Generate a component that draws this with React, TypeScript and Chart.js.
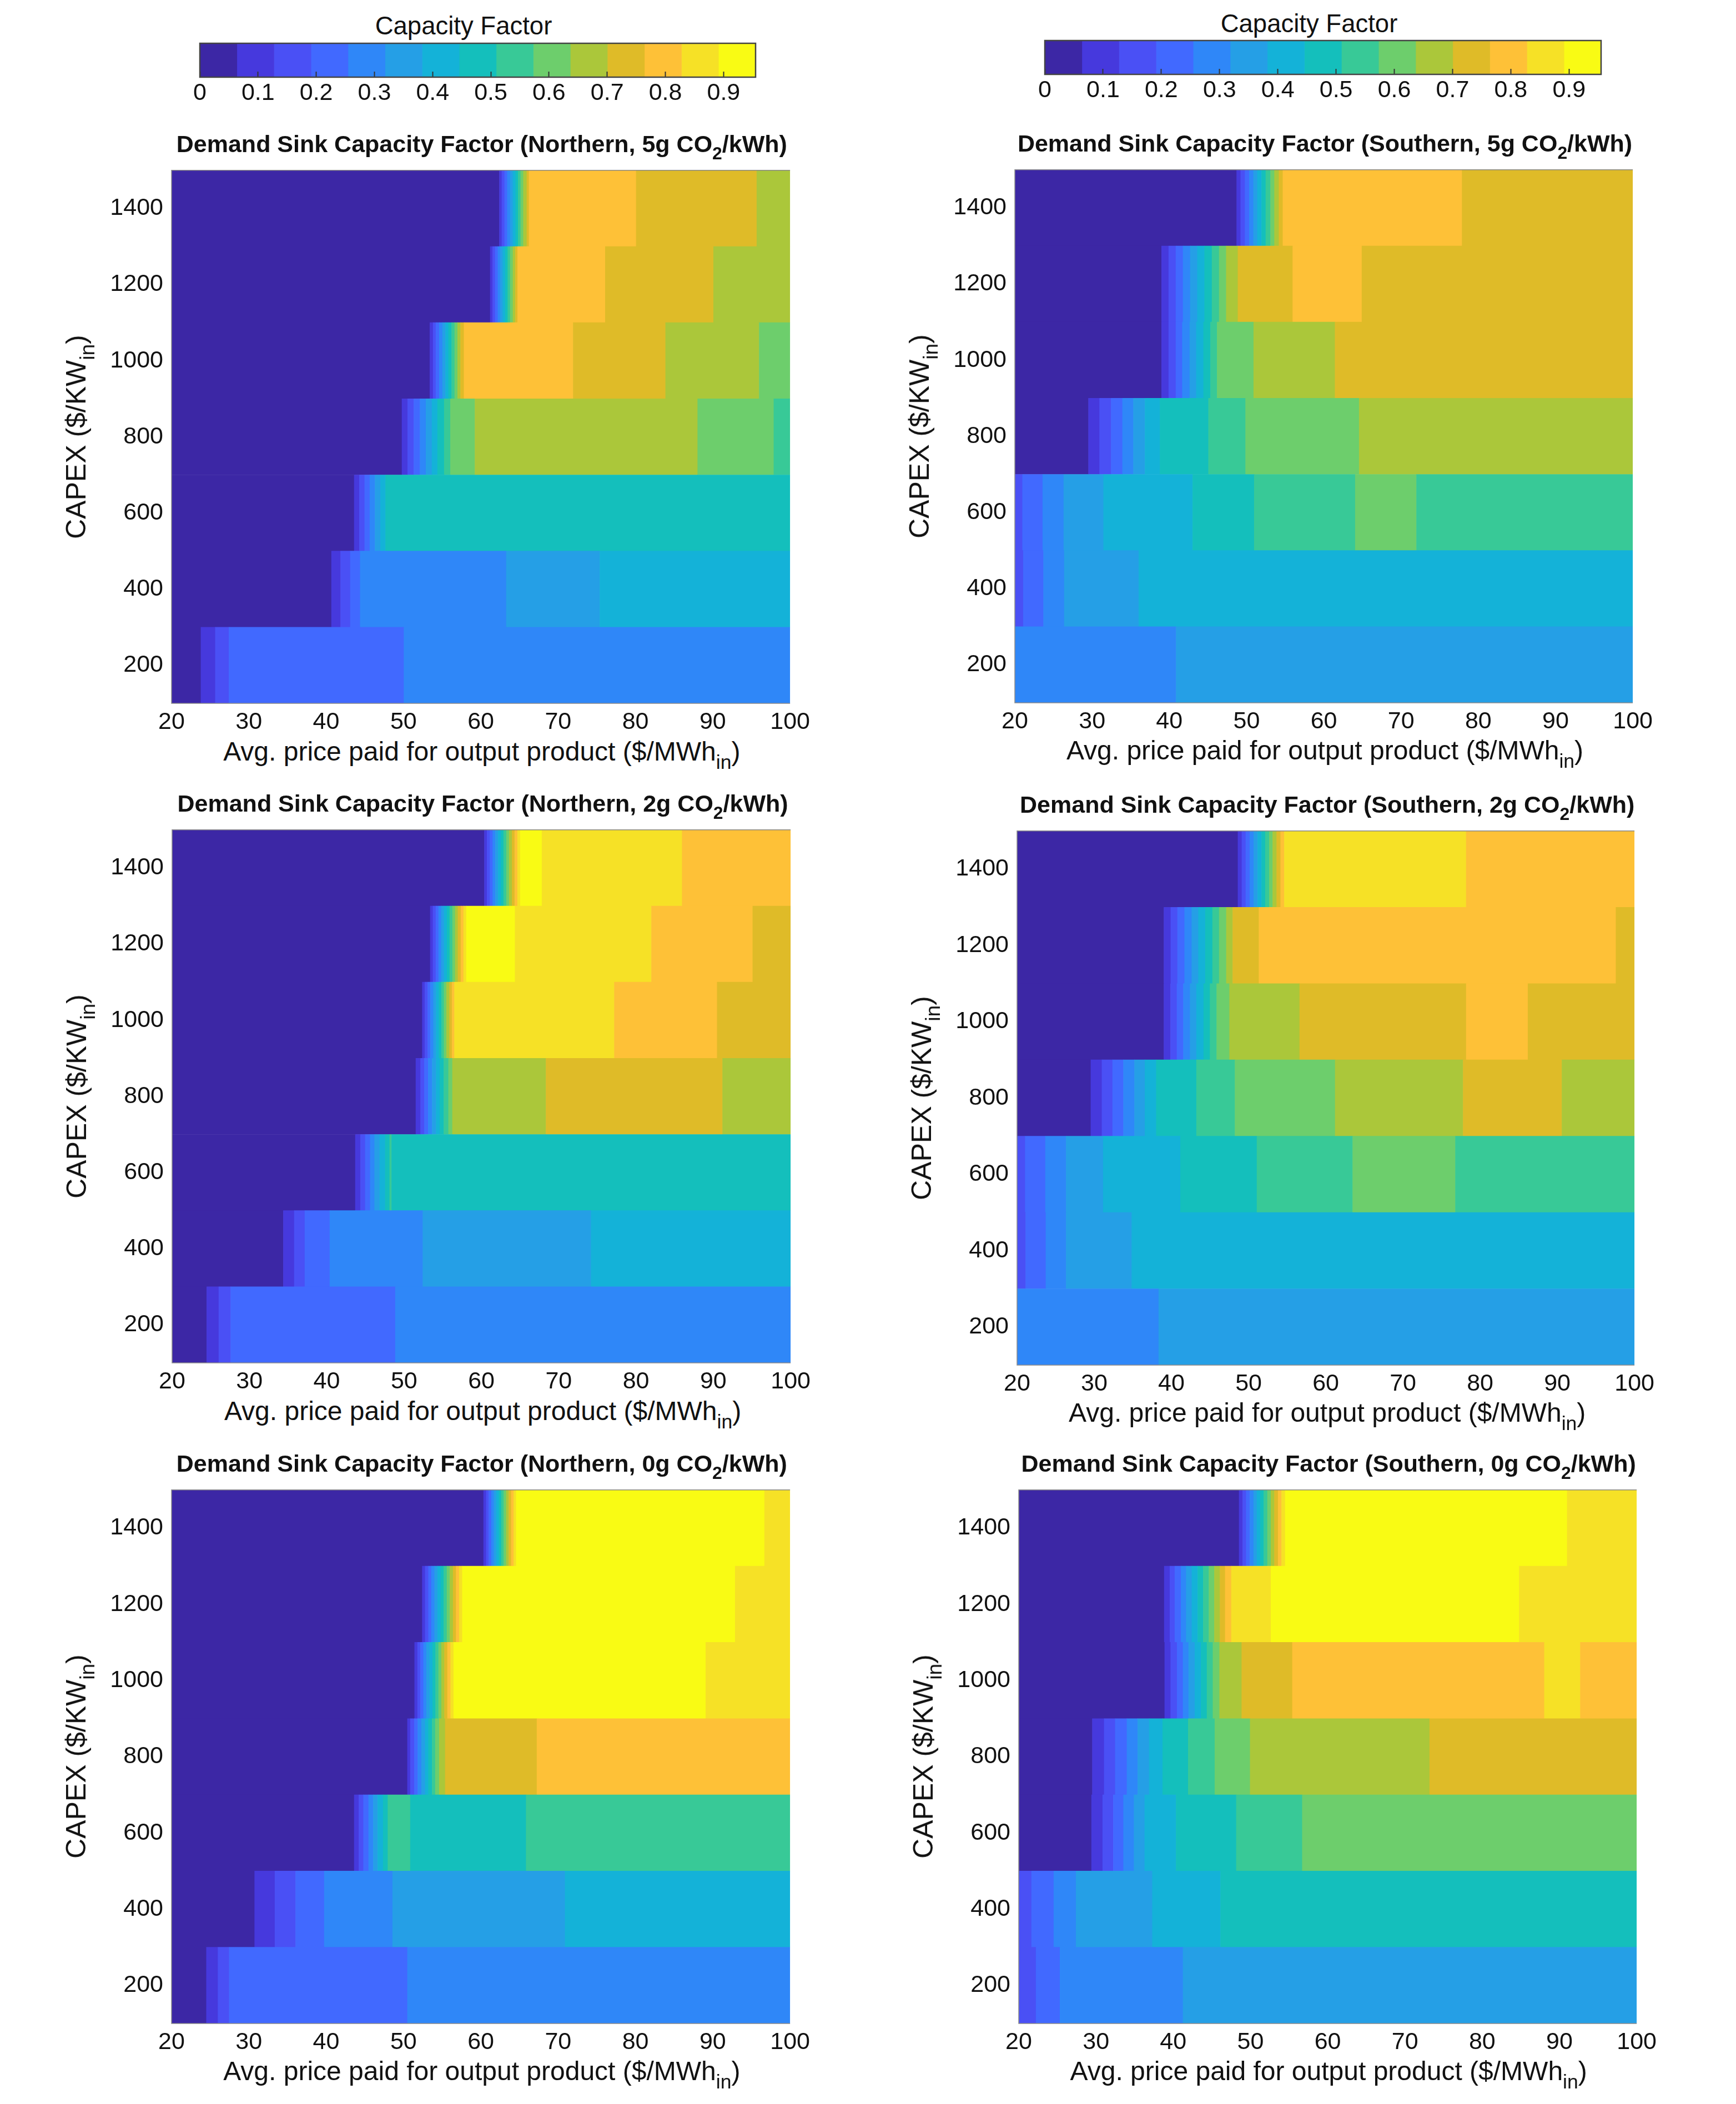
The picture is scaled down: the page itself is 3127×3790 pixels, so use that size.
import { useEffect, useRef } from 'react';
import { Chart, registerables } from 'chart.js';

Chart.register(...registerables);

document.body.style.margin = '0';
const FONT = '"Liberation Sans", Arial, sans-serif';
Chart.defaults.font.family = FONT;

// colormap steps, low to high capacity factor
const levelColors = [
  '#3c27a5', '#4639dd', '#4a50f5', '#4169ff', '#2f87f8',
  '#259fe6', '#14b2d8', '#14bfbc', '#38c997', '#6dce6c',
  '#abc73a', '#dfbb28', '#fec137', '#f6e126', '#f9fb14',
];
const colorbarMax = 0.955;
const colorbarTicks = [0, 0.1, 0.2, 0.3, 0.4, 0.5, 0.6, 0.7, 0.8, 0.9];

const capexBands = [1400, 1200, 1000, 800, 600, 400, 200];
const capexTicks = [200, 400, 600, 800, 1000, 1200, 1400];
const priceTicks = [20, 30, 40, 50, 60, 70, 80, 90, 100];

// each row follows capexBands; a pair is [end price, colour level], a segment starts where the last one ended
const northern5 = [
  [[62.4, 0], [62.72, 1], [63.08, 2], [63.43, 3], [63.81, 4], [64.16, 5], [64.51, 6], [64.83, 7], [65.16, 8], [65.51, 9], [65.95, 10], [66.24, 11], [80.1, 12], [95.7, 11], [100, 10]],
  [[61.22, 0], [61.54, 1], [61.86, 2], [62.21, 3], [62.53, 4], [62.85, 5], [63.17, 6], [63.49, 7], [63.81, 8], [64.16, 9], [64.48, 10], [64.77, 11], [76.1, 12], [90.1, 11], [100, 10]],
  [[53.42, 0], [53.83, 1], [54.19, 2], [54.63, 3], [55.05, 4], [55.43, 5], [55.82, 6], [56.23, 7], [56.62, 8], [57.0, 9], [57.38, 10], [57.83, 11], [71.95, 12], [83.9, 11], [96.0, 10], [100, 9]],
  [[49.8, 0], [50.54, 1], [51.34, 2], [52.14, 3], [52.91, 4], [53.68, 5], [54.41, 6], [55.27, 7], [56.07, 8], [59.24, 9], [88.05, 10], [97.9, 9], [100, 8]],
  [[43.63, 0], [44.3, 1], [44.98, 2], [45.65, 3], [46.32, 4], [47.02, 5], [47.69, 6], [100, 7]],
  [[40.69, 0], [41.87, 1], [43.12, 2], [44.4, 3], [63.3, 4], [75.4, 5], [100, 6]],
  [[23.8, 0], [25.66, 1], [27.42, 2], [50.06, 3], [100, 4]],
];
const southern5 = [
  [[48.72, 0], [49.23, 1], [49.8, 2], [50.35, 3], [50.89, 4], [51.4, 5], [51.95, 6], [52.49, 7], [53.1, 8], [53.61, 9], [54.19, 10], [54.7, 11], [77.9, 12], [100, 11]],
  [[39.0, 0], [39.92, 1], [40.85, 2], [41.78, 3], [42.71, 4], [43.63, 5], [44.56, 6], [45.52, 7], [46.45, 8], [47.37, 9], [48.88, 10], [55.98, 11], [64.93, 12], [100, 11]],
  [[39.0, 0], [39.92, 1], [40.85, 2], [41.68, 3], [42.64, 4], [43.5, 5], [44.43, 6], [45.33, 7], [46.19, 8], [50.92, 9], [61.45, 10], [100, 11]],
  [[29.53, 0], [30.97, 1], [32.47, 2], [33.94, 3], [35.35, 4], [36.85, 5], [38.8, 6], [45.07, 7], [49.87, 8], [64.58, 9], [100, 10]],
  [[20.99, 2], [23.61, 3], [26.33, 4], [31.48, 5], [43.03, 6], [50.99, 7], [64.07, 8], [72.0, 9], [100, 8]],
  [[21.09, 2], [23.71, 3], [26.4, 4], [36.05, 5], [100, 6]],
  [[40.88, 4], [100, 5]],
];
const northern2 = [
  [[60.39, 0], [60.74, 1], [61.12, 2], [61.48, 3], [61.83, 4], [62.18, 5], [62.53, 6], [62.88, 7], [63.24, 8], [63.59, 9], [63.97, 10], [64.32, 11], [64.68, 12], [65.03, 13], [67.84, 14], [85.97, 13], [100, 12]],
  [[53.39, 0], [53.74, 1], [54.12, 2], [54.47, 3], [54.83, 4], [55.18, 5], [55.56, 6], [55.91, 7], [56.27, 8], [56.62, 9], [56.97, 10], [57.35, 11], [57.7, 12], [58.06, 13], [64.36, 14], [82.0, 13], [95.1, 12], [100, 11]],
  [[52.36, 0], [52.71, 1], [53.07, 2], [53.42, 3], [53.8, 4], [54.15, 5], [54.51, 6], [54.86, 7], [55.18, 8], [55.5, 9], [55.88, 10], [56.2, 11], [56.52, 12], [77.2, 13], [90.5, 12], [100, 11]],
  [[51.53, 0], [52.14, 1], [52.62, 2], [53.13, 3], [53.64, 4], [54.15, 5], [54.63, 6], [55.14, 7], [55.75, 8], [56.26, 9], [68.36, 10], [91.2, 11], [100, 10]],
  [[43.7, 0], [44.37, 1], [44.98, 2], [45.62, 3], [46.19, 4], [46.86, 5], [47.57, 6], [48.14, 7], [48.4, 8], [100, 7]],
  [[34.39, 0], [35.8, 1], [37.17, 2], [40.4, 3], [52.43, 4], [74.2, 5], [100, 6]],
  [[24.48, 0], [26.04, 1], [27.58, 2], [48.88, 3], [100, 4]],
];
const southern2 = [
  [[48.62, 0], [49.13, 1], [49.64, 2], [50.16, 3], [50.67, 4], [51.18, 5], [51.69, 6], [52.17, 7], [52.68, 8], [53.13, 9], [53.64, 10], [54.15, 11], [54.63, 12], [78.2, 13], [100, 12]],
  [[39.03, 0], [39.92, 1], [40.79, 2], [41.71, 3], [42.64, 4], [43.5, 5], [44.4, 6], [45.33, 7], [46.19, 8], [47.12, 9], [47.95, 10], [51.34, 11], [97.6, 12], [100, 11]],
  [[39.03, 0], [39.89, 1], [40.72, 2], [41.55, 3], [42.42, 4], [43.25, 5], [44.18, 6], [45.01, 7], [45.87, 8], [47.53, 9], [56.62, 10], [78.2, 11], [86.2, 12], [100, 11]],
  [[29.56, 0], [31.0, 1], [32.38, 2], [33.78, 3], [35.22, 4], [36.57, 5], [38.04, 6], [43.25, 7], [48.24, 8], [61.22, 9], [77.8, 10], [90.6, 11], [100, 10]],
  [[21.06, 2], [23.68, 3], [26.36, 4], [31.16, 5], [41.17, 6], [51.08, 7], [63.49, 8], [76.8, 9], [100, 8]],
  [[21.12, 2], [23.74, 3], [26.36, 4], [34.87, 5], [100, 6]],
  [[38.36, 4], [100, 5]],
];
const northern0 = [
  [[60.36, 0], [60.71, 1], [61.03, 2], [61.38, 3], [61.7, 4], [62.02, 5], [62.34, 6], [62.66, 7], [62.98, 8], [63.3, 9], [63.62, 10], [63.94, 11], [64.26, 12], [64.58, 13], [96.7, 14], [100, 13]],
  [[52.43, 0], [52.81, 1], [53.23, 2], [53.61, 3], [54.02, 4], [54.41, 5], [54.82, 6], [55.21, 7], [55.62, 8], [56.01, 9], [56.42, 10], [56.81, 11], [57.22, 12], [57.61, 13], [92.9, 14], [100, 13]],
  [[51.44, 0], [51.82, 1], [52.2, 2], [52.59, 3], [52.97, 4], [53.39, 5], [53.77, 6], [54.15, 7], [54.54, 8], [54.92, 9], [55.3, 10], [55.69, 11], [56.1, 12], [56.49, 13], [89.1, 14], [100, 13]],
  [[50.51, 0], [50.89, 1], [51.4, 2], [51.85, 3], [52.33, 4], [52.81, 5], [53.23, 6], [53.71, 7], [54.12, 8], [54.63, 9], [55.4, 10], [67.26, 11], [100, 12]],
  [[43.63, 0], [44.24, 1], [44.82, 2], [45.49, 3], [46.1, 4], [46.67, 5], [47.37, 6], [47.98, 7], [50.89, 8], [65.86, 7], [100, 8]],
  [[30.75, 0], [33.37, 1], [36.05, 2], [39.76, 3], [48.59, 4], [70.9, 5], [100, 6]],
  [[24.51, 0], [26.01, 1], [27.45, 2], [50.51, 3], [100, 4]],
];
const southern0 = [
  [[48.53, 0], [49.0, 1], [49.45, 2], [49.93, 3], [50.41, 4], [50.83, 5], [51.28, 6], [51.72, 7], [52.2, 8], [52.65, 9], [53.1, 10], [53.58, 11], [54.03, 12], [54.5, 13], [91, 14], [100, 13]],
  [[38.84, 0], [39.57, 1], [40.21, 2], [41.01, 3], [41.68, 4], [42.42, 5], [43.18, 6], [43.89, 7], [44.62, 8], [45.33, 9], [46.06, 10], [46.73, 11], [47.53, 12], [52.65, 13], [84.8, 14], [100, 13]],
  [[38.9, 0], [39.67, 1], [40.5, 2], [41.27, 3], [42.0, 4], [42.8, 5], [43.6, 6], [44.37, 7], [45.14, 8], [46.0, 9], [48.87, 10], [55.43, 11], [88.05, 12], [92.7, 13], [100, 12]],
  [[29.53, 0], [31.06, 1], [32.5, 2], [34.01, 3], [35.41, 4], [36.89, 5], [38.64, 6], [41.94, 7], [45.39, 8], [49.96, 9], [73.2, 10], [100, 11]],
  [[29.43, 0], [30.87, 1], [32.25, 2], [33.56, 3], [34.93, 4], [36.31, 5], [40.37, 6], [48.17, 7], [56.71, 8], [100, 9]],
  [[21.66, 2], [24.54, 3], [27.42, 4], [37.3, 5], [46.13, 6], [100, 7]],
  [[22.24, 2], [25.34, 3], [41.27, 4], [100, 5]],
];

type Row = number[][];

const panels = [
  { region: 'Northern', co2: '5g', rows: northern5, left: 308.6, right: 1427, top: 306, bottom: 1267.7 },
  { region: 'Southern', co2: '5g', rows: southern5, left: 1828, right: 2945, top: 304.7, bottom: 1266.4 },
  { region: 'Northern', co2: '2g', rows: northern2, left: 310.4, right: 1428.7, top: 1493.6, bottom: 2455.5 },
  { region: 'Southern', co2: '2g', rows: southern2, left: 1832.4, right: 2949, top: 1496, bottom: 2459 },
  { region: 'Northern', co2: '0g', rows: northern0, left: 308.6, right: 1427, top: 2682.5, bottom: 3644.5 },
  { region: 'Southern', co2: '0g', rows: southern0, left: 1834.6, right: 2951.7, top: 2682.5, bottom: 3644.5 },
];

const TICK_SIZE = 43;
const AXIS_W = 140;
const AXIS_H = 60;
const PAD = 40;

// thin axis lines: top, left and bottom only, the right side stays open
const axisLinesPlugin = {
  id: 'axisLines',
  afterDraw(chart: Chart) {
    const { ctx, chartArea: a } = chart;
    ctx.save();
    ctx.strokeStyle = '#8a8a8a';
    ctx.lineWidth = 1.5;
    ctx.beginPath();
    ctx.moveTo(a.right, a.top);
    ctx.lineTo(a.left, a.top);
    ctx.lineTo(a.left, a.bottom);
    ctx.lineTo(a.right, a.bottom);
    ctx.stroke();
    ctx.restore();
  },
};

const boxPlugin = {
  id: 'box',
  afterDraw(chart: Chart) {
    const { ctx, chartArea: a } = chart;
    ctx.save();
    ctx.strokeStyle = '#444';
    ctx.lineWidth = 2.5;
    ctx.strokeRect(a.left, a.top, a.right - a.left, a.bottom - a.top);
    ctx.restore();
  },
};

function Heatmap({ rows, left, right, top, bottom }: { rows: Row[]; left: number; right: number; top: number; bottom: number }) {
  const canvasRef = useRef<HTMLCanvasElement>(null);

  useEffect(() => {
    if (!canvasRef.current) return;
    const bars: { y: number; x: number[]; level: number }[] = [];
    rows.forEach((row, i) => {
      let start = 20;
      row.forEach(([end, level]) => {
        bars.push({ y: capexBands[i], x: [start, end], level });
        start = end;
      });
    });
    const chart = new Chart(canvasRef.current, {
      type: 'bar',
      data: {
        datasets: [
          {
            data: bars as any,
            backgroundColor: bars.map((b) => levelColors[b.level]),
            borderWidth: 0,
            barPercentage: 1,
            categoryPercentage: 1,
          },
        ],
      },
      plugins: [axisLinesPlugin],
      options: {
        indexAxis: 'y',
        animation: false,
        responsive: false,
        devicePixelRatio: 1,
        events: [],
        layout: { autoPadding: false, padding: { top: PAD, right: PAD, left: 0, bottom: 0 } },
        plugins: { legend: { display: false }, tooltip: { enabled: false } },
        scales: {
          x: {
            type: 'linear',
            min: 20,
            max: 100,
            afterBuildTicks: (s) => { s.ticks = priceTicks.map((value) => ({ value })); },
            afterFit: (s) => { s.height = AXIS_H; },
            grid: { drawOnChartArea: false, drawTicks: false },
            border: { display: false },
            ticks: { color: '#111', font: { size: TICK_SIZE }, padding: 8, maxRotation: 0, autoSkip: false },
          },
          y: {
            type: 'linear',
            offset: false,
            min: 100,
            max: 1500,
            afterBuildTicks: (s) => { s.ticks = capexTicks.map((value) => ({ value })); },
            afterFit: (s) => { s.width = AXIS_W; },
            grid: { drawOnChartArea: false, drawTicks: false },
            border: { display: false },
            ticks: { color: '#111', font: { size: TICK_SIZE }, padding: 15, autoSkip: false, callback: (v) => String(v) },
          },
        },
      },
    });
    return () => { chart.destroy(); };
  }, []);

  return (
    <canvas
      ref={canvasRef}
      width={right - left + AXIS_W + PAD}
      height={bottom - top + AXIS_H + PAD}
      style={{ position: 'absolute', left: left - AXIS_W, top: top - PAD }}
    />
  );
}

function Colorbar({ left, right, top, bottom }: { left: number; right: number; top: number; bottom: number }) {
  const canvasRef = useRef<HTMLCanvasElement>(null);

  useEffect(() => {
    if (!canvasRef.current) return;
    const step = colorbarMax / levelColors.length;
    const chart = new Chart(canvasRef.current, {
      type: 'bar',
      data: {
        labels: ['Capacity Factor'],
        datasets: levelColors.map((color, i) => ({
          data: [[i * step, (i + 1) * step]] as any,
          backgroundColor: color,
          borderWidth: 0,
          barPercentage: 1,
          categoryPercentage: 1,
          grouped: false,
        })),
      },
      plugins: [boxPlugin],
      options: {
        indexAxis: 'y',
        animation: false,
        responsive: false,
        devicePixelRatio: 1,
        events: [],
        layout: { autoPadding: false, padding: { top: 4, right: PAD, left: PAD, bottom: 0 } },
        plugins: { legend: { display: false }, tooltip: { enabled: false } },
        scales: {
          x: {
            type: 'linear',
            min: 0,
            max: colorbarMax,
            afterBuildTicks: (s) => { s.ticks = colorbarTicks.map((value) => ({ value })); },
            afterFit: (s) => { s.height = AXIS_H; },
            grid: { drawOnChartArea: false, drawTicks: true, tickLength: -10, tickColor: '#333', tickWidth: 2, z: 1 },
            border: { display: false },
            ticks: { color: '#111', font: { size: TICK_SIZE }, padding: 13, maxRotation: 0, autoSkip: false, callback: (v) => String(v) },
          },
          y: { display: false },
        },
      },
    });
    return () => { chart.destroy(); };
  }, []);

  return (
    <canvas
      ref={canvasRef}
      width={right - left + PAD * 2}
      height={bottom - top + AXIS_H + 4}
      style={{ position: 'absolute', left: left - PAD, top: top - 4 }}
    />
  );
}

const centered = (x: number, y: number, size: number, weight = 400) => ({
  position: 'absolute' as const,
  left: x,
  top: y,
  transform: 'translate(-50%, -50%)',
  fontSize: size,
  fontWeight: weight,
  fontFamily: FONT,
  color: '#111',
  whiteSpace: 'nowrap' as const,
  lineHeight: 1,
});

const subStyle = { fontSize: '0.74em', verticalAlign: '-0.42em', lineHeight: 0 };

export default function App() {
  return (
    <div style={{ position: 'relative', width: 3127, height: 3790, overflow: 'hidden', background: '#fff' }}>
      <Colorbar left={359.7} right={1361} top={77.7} bottom={139} />
      <Colorbar left={1882} right={2884} top={73.3} bottom={135} />
      <div style={centered(835, 47, 45.5)}>Capacity Factor</div>
      <div style={centered(2358, 43, 45.5)}>Capacity Factor</div>
      {panels.map((p) => {
        const cx = (p.left + p.right) / 2;
        return (
          <div key={p.region + p.co2}>
            <Heatmap rows={p.rows} left={p.left} right={p.right} top={p.top} bottom={p.bottom} />
            <div style={centered(cx, p.top - 47, 43, 700)}>
              Demand Sink Capacity Factor ({p.region}, {p.co2} CO<sub style={subStyle}>2</sub>/kWh)
            </div>
            <div style={centered(cx, p.bottom + 86, 48)}>
              Avg. price paid for output product ($/MWh<sub style={subStyle}>in</sub>)
            </div>
            <div style={{ ...centered(p.left - 172, (p.top + p.bottom) / 2, 50), transform: 'translate(-50%, -50%) rotate(-90deg)' }}>
              CAPEX ($/KW<sub style={subStyle}>in</sub>)
            </div>
          </div>
        );
      })}
    </div>
  );
}
